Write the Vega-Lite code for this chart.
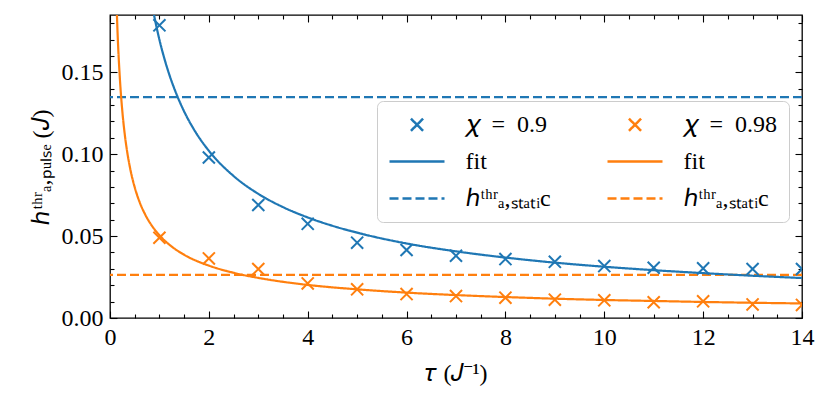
{
  "$schema": "https://vega.github.io/schema/vega-lite/v6.json",
  "width": 692,
  "height": 303,
  "padding": {"left": 29, "top": 14, "right": 26, "bottom": 5},
  "config": {
    "view": {"stroke": "black", "strokeWidth": 1.3},
    "font": "Liberation Serif",
    "axis": {"grid": false, "domain": false, "labelFlush": false, "tickColor": "black", "tickWidth": 1.1, "labelColor": "black", "titleColor": "black", "labelFont": "Liberation Serif", "titleFont": "Liberation Serif", "labelFontSize": 24, "titleFontSize": 24, "titleFontWeight": "normal"},
    "legend": {"symbolSize": 484, "symbolStrokeWidth": 2.5, "symbolOffset": 16.5, "labelFontSize": 24, "labelFont": "Liberation Serif", "labelColor": "black", "fillColor": "rgba(255,255,255,0.8)", "strokeColor": "#cccccc", "cornerRadius": 6, "padding": 11, "rowPadding": 12, "columnPadding": 51, "labelOffset": 36, "labelLimit": 300}
  },
  "datasets": {
    "static": [
      {"series": "b3", "h": 0.1348},
      {"series": "o3", "h": 0.0263}
    ],
    "fitb": [
      {"series": "b2", "tau": 0.85, "h": 0.1914},
      {"series": "b2", "tau": 0.9, "h": 0.1836},
      {"series": "b2", "tau": 1.0, "h": 0.1699},
      {"series": "b2", "tau": 1.1, "h": 0.1584},
      {"series": "b2", "tau": 1.2, "h": 0.1486},
      {"series": "b2", "tau": 1.35, "h": 0.1363},
      {"series": "b2", "tau": 1.5, "h": 0.1261},
      {"series": "b2", "tau": 1.75, "h": 0.1126},
      {"series": "b2", "tau": 2.0, "h": 0.1021},
      {"series": "b2", "tau": 2.5, "h": 0.0867},
      {"series": "b2", "tau": 3.0, "h": 0.0758},
      {"series": "b2", "tau": 3.5, "h": 0.0677},
      {"series": "b2", "tau": 4.0, "h": 0.0614},
      {"series": "b2", "tau": 4.5, "h": 0.0563},
      {"series": "b2", "tau": 5.0, "h": 0.0521},
      {"series": "b2", "tau": 6.0, "h": 0.0455},
      {"series": "b2", "tau": 7.0, "h": 0.0407},
      {"series": "b2", "tau": 8.0, "h": 0.0369},
      {"series": "b2", "tau": 9.0, "h": 0.0338},
      {"series": "b2", "tau": 10.0, "h": 0.0313},
      {"series": "b2", "tau": 11.0, "h": 0.0292},
      {"series": "b2", "tau": 12.0, "h": 0.0274},
      {"series": "b2", "tau": 13.0, "h": 0.0258},
      {"series": "b2", "tau": 14.0, "h": 0.0244}
    ],
    "fito": [
      {"series": "o2", "tau": 0.12, "h": 0.2047},
      {"series": "o2", "tau": 0.15, "h": 0.1766},
      {"series": "o2", "tau": 0.2, "h": 0.1461},
      {"series": "o2", "tau": 0.25, "h": 0.1261},
      {"series": "o2", "tau": 0.3, "h": 0.1118},
      {"series": "o2", "tau": 0.35, "h": 0.1010},
      {"series": "o2", "tau": 0.4, "h": 0.0925},
      {"series": "o2", "tau": 0.45, "h": 0.0855},
      {"series": "o2", "tau": 0.5, "h": 0.0798},
      {"series": "o2", "tau": 0.6, "h": 0.0707},
      {"series": "o2", "tau": 0.7, "h": 0.0639},
      {"series": "o2", "tau": 0.85, "h": 0.0562},
      {"series": "o2", "tau": 1.0, "h": 0.0505},
      {"series": "o2", "tau": 1.25, "h": 0.0436},
      {"series": "o2", "tau": 1.5, "h": 0.0386},
      {"series": "o2", "tau": 2.0, "h": 0.0320},
      {"series": "o2", "tau": 2.5, "h": 0.0276},
      {"series": "o2", "tau": 3.0, "h": 0.0245},
      {"series": "o2", "tau": 4.0, "h": 0.0202},
      {"series": "o2", "tau": 5.0, "h": 0.0175},
      {"series": "o2", "tau": 6.0, "h": 0.0155},
      {"series": "o2", "tau": 7.0, "h": 0.0140},
      {"series": "o2", "tau": 8.0, "h": 0.0128},
      {"series": "o2", "tau": 9.0, "h": 0.0118},
      {"series": "o2", "tau": 10.0, "h": 0.0110},
      {"series": "o2", "tau": 11.0, "h": 0.0104},
      {"series": "o2", "tau": 12.0, "h": 0.0098},
      {"series": "o2", "tau": 13.0, "h": 0.0093},
      {"series": "o2", "tau": 14.0, "h": 0.0089}
    ],
    "ptsb": [
      {"series": "b1", "tau": 1, "h": 0.1787},
      {"series": "b1", "tau": 2, "h": 0.098},
      {"series": "b1", "tau": 3, "h": 0.069},
      {"series": "b1", "tau": 4, "h": 0.0575},
      {"series": "b1", "tau": 5, "h": 0.046},
      {"series": "b1", "tau": 6, "h": 0.0415},
      {"series": "b1", "tau": 7, "h": 0.038},
      {"series": "b1", "tau": 8, "h": 0.036},
      {"series": "b1", "tau": 9, "h": 0.0343},
      {"series": "b1", "tau": 10, "h": 0.0317},
      {"series": "b1", "tau": 11, "h": 0.0307},
      {"series": "b1", "tau": 12, "h": 0.0303},
      {"series": "b1", "tau": 13, "h": 0.0299},
      {"series": "b1", "tau": 14, "h": 0.0299}
    ],
    "ptso": [
      {"series": "o1", "tau": 1, "h": 0.049},
      {"series": "o1", "tau": 2, "h": 0.0364},
      {"series": "o1", "tau": 3, "h": 0.0299},
      {"series": "o1", "tau": 4, "h": 0.0211},
      {"series": "o1", "tau": 5, "h": 0.0175},
      {"series": "o1", "tau": 6, "h": 0.0146},
      {"series": "o1", "tau": 7, "h": 0.0134},
      {"series": "o1", "tau": 8, "h": 0.0124},
      {"series": "o1", "tau": 9, "h": 0.0112},
      {"series": "o1", "tau": 10, "h": 0.0108},
      {"series": "o1", "tau": 11, "h": 0.0096},
      {"series": "o1", "tau": 12, "h": 0.0102},
      {"series": "o1", "tau": 13, "h": 0.0083},
      {"series": "o1", "tau": 14, "h": 0.008}
    ]
  },
  "resolve": {"axis": {"x": "independent", "y": "independent"}},
  "layer": [
    {
      "data": {"name": "static"},
      "mark": {"type": "rule", "strokeWidth": 2.2},
      "encoding": {
        "y": {"field": "h", "type": "quantitative", "scale": {"domain": [0, 0.185], "nice": false, "zero": false},
              "axis": {"orient": "left", "values": [0, 0.05, 0.1, 0.15], "format": ".2f", "tickSize": -7, "labelPadding": 14, "title": "ℎᵗʰʳₐ,ₚᵤₗₛₑ (𝐽)", "titlePadding": 8}},
        "color": {"field": "series", "type": "nominal",
                  "scale": {"domain": ["b1", "b2", "b3", "o1", "o2", "o3"], "range": ["#1f77b4", "#1f77b4", "#1f77b4", "#ff7f0e", "#ff7f0e", "#ff7f0e"]},
                  "legend": {"orient": "none", "legendX": 267, "legendY": 86, "columns": 2, "title": null,
                             "labelExpr": "datum.label == 'b1' ? '𝜒\u2002=\u20020.9' : datum.label == 'o1' ? '𝜒\u2002=\u20020.98' : (datum.label == 'b2' || datum.label == 'o2') ? 'fit' : 'ℎᵗʰʳₐ,ₛₜₐₜᵢc'"}},
        "strokeDash": {"field": "series", "type": "nominal",
                       "scale": {"domain": ["b1", "b2", "b3", "o1", "o2", "o3"], "range": [[1, 0], [1, 0], [9, 4], [1, 0], [1, 0], [9, 4]]},
                       "legend": {"orient": "none", "legendX": 267, "legendY": 86, "columns": 2, "title": null,
                             "labelExpr": "datum.label == 'b1' ? '𝜒\u2002=\u20020.9' : datum.label == 'o1' ? '𝜒\u2002=\u20020.98' : (datum.label == 'b2' || datum.label == 'o2') ? 'fit' : 'ℎᵗʰʳₐ,ₛₜₐₜᵢc'"}}
      }
    },
    {
      "data": {"name": "fitb"},
      "mark": {"type": "line", "strokeWidth": 2.2, "clip": true, "interpolate": "monotone"},
      "encoding": {
        "x": {"field": "tau", "type": "quantitative", "scale": {"domain": [0, 14], "nice": false, "zero": false},
              "axis": {"orient": "bottom", "values": [0, 2, 4, 6, 8, 10, 12, 14], "format": "d", "tickSize": -7, "labelPadding": 14, "title": "𝜏 (𝐽⁻¹)", "titlePadding": 12}},
        "y": {"field": "h", "type": "quantitative", "scale": {"domain": [0, 0.185], "nice": false, "zero": false},
              "axis": {"orient": "right", "values": [0, 0.05, 0.1, 0.15], "tickSize": -7, "labels": false, "title": null}},
        "color": {"field": "series", "type": "nominal"},
        "strokeDash": {"field": "series", "type": "nominal"}
      }
    },
    {
      "data": {"name": "fito"},
      "mark": {"type": "line", "strokeWidth": 2.2, "clip": true, "interpolate": "monotone"},
      "encoding": {
        "x": {"field": "tau", "type": "quantitative", "scale": {"domain": [0, 14], "nice": false, "zero": false},
              "axis": {"orient": "top", "values": [0.5, 1, 1.5, 2.5, 3, 3.5, 4.5, 5, 5.5, 6.5, 7, 7.5, 8.5, 9, 9.5, 10.5, 11, 11.5, 12.5, 13, 13.5], "tickSize": -4, "labels": false, "title": null}},
        "y": {"field": "h", "type": "quantitative", "scale": {"domain": [0, 0.185], "nice": false, "zero": false},
              "axis": {"orient": "left", "values": [0.01, 0.02, 0.03, 0.04, 0.06, 0.07, 0.08, 0.09, 0.11, 0.12, 0.13, 0.14, 0.16, 0.17, 0.18], "tickSize": -4, "labels": false, "title": null}},
        "color": {"field": "series", "type": "nominal"},
        "strokeDash": {"field": "series", "type": "nominal"}
      }
    },
    {
      "data": {"name": "ptsb"},
      "mark": {"type": "point", "filled": false, "strokeWidth": 2, "size": 484, "clip": true, "opacity": 1},
      "encoding": {
        "x": {"field": "tau", "type": "quantitative", "scale": {"domain": [0, 14], "nice": false, "zero": false},
              "axis": {"orient": "top", "values": [0, 2, 4, 6, 8, 10, 12, 14], "tickSize": -7, "labels": false, "title": null}},
        "y": {"field": "h", "type": "quantitative", "scale": {"domain": [0, 0.185], "nice": false, "zero": false},
              "axis": {"orient": "right", "values": [0.01, 0.02, 0.03, 0.04, 0.06, 0.07, 0.08, 0.09, 0.11, 0.12, 0.13, 0.14, 0.16, 0.17, 0.18], "tickSize": -4, "labels": false, "title": null}},
        "color": {"field": "series", "type": "nominal"},
        "shape": {"field": "series", "type": "nominal",
                  "scale": {"domain": ["b1", "b2", "b3", "o1", "o2", "o3"], "range": ["M-0.55,-0.55L0.55,0.55M-0.55,0.55L0.55,-0.55", "M-2.5,0L2.5,0", "M-2.5,0L2.5,0", "M-0.55,-0.55L0.55,0.55M-0.55,0.55L0.55,-0.55", "M-2.5,0L2.5,0", "M-2.5,0L2.5,0"]},
                  "legend": {"orient": "none", "legendX": 267, "legendY": 86, "columns": 2, "title": null,
                             "labelExpr": "datum.label == 'b1' ? '𝜒\u2002=\u20020.9' : datum.label == 'o1' ? '𝜒\u2002=\u20020.98' : (datum.label == 'b2' || datum.label == 'o2') ? 'fit' : 'ℎᵗʰʳₐ,ₛₜₐₜᵢc'"}}
      }
    },
    {
      "data": {"name": "ptso"},
      "mark": {"type": "point", "filled": false, "strokeWidth": 2, "size": 484, "clip": true, "opacity": 1},
      "encoding": {
        "x": {"field": "tau", "type": "quantitative", "scale": {"domain": [0, 14], "nice": false, "zero": false},
              "axis": {"orient": "bottom", "values": [0.5, 1, 1.5, 2.5, 3, 3.5, 4.5, 5, 5.5, 6.5, 7, 7.5, 8.5, 9, 9.5, 10.5, 11, 11.5, 12.5, 13, 13.5], "tickSize": -4, "labels": false, "title": null}},
        "y": {"field": "h", "type": "quantitative", "scale": {"domain": [0, 0.185], "nice": false, "zero": false}, "axis": null},
        "color": {"field": "series", "type": "nominal"},
        "shape": {"field": "series", "type": "nominal"}
      }
    }
  ]
}
